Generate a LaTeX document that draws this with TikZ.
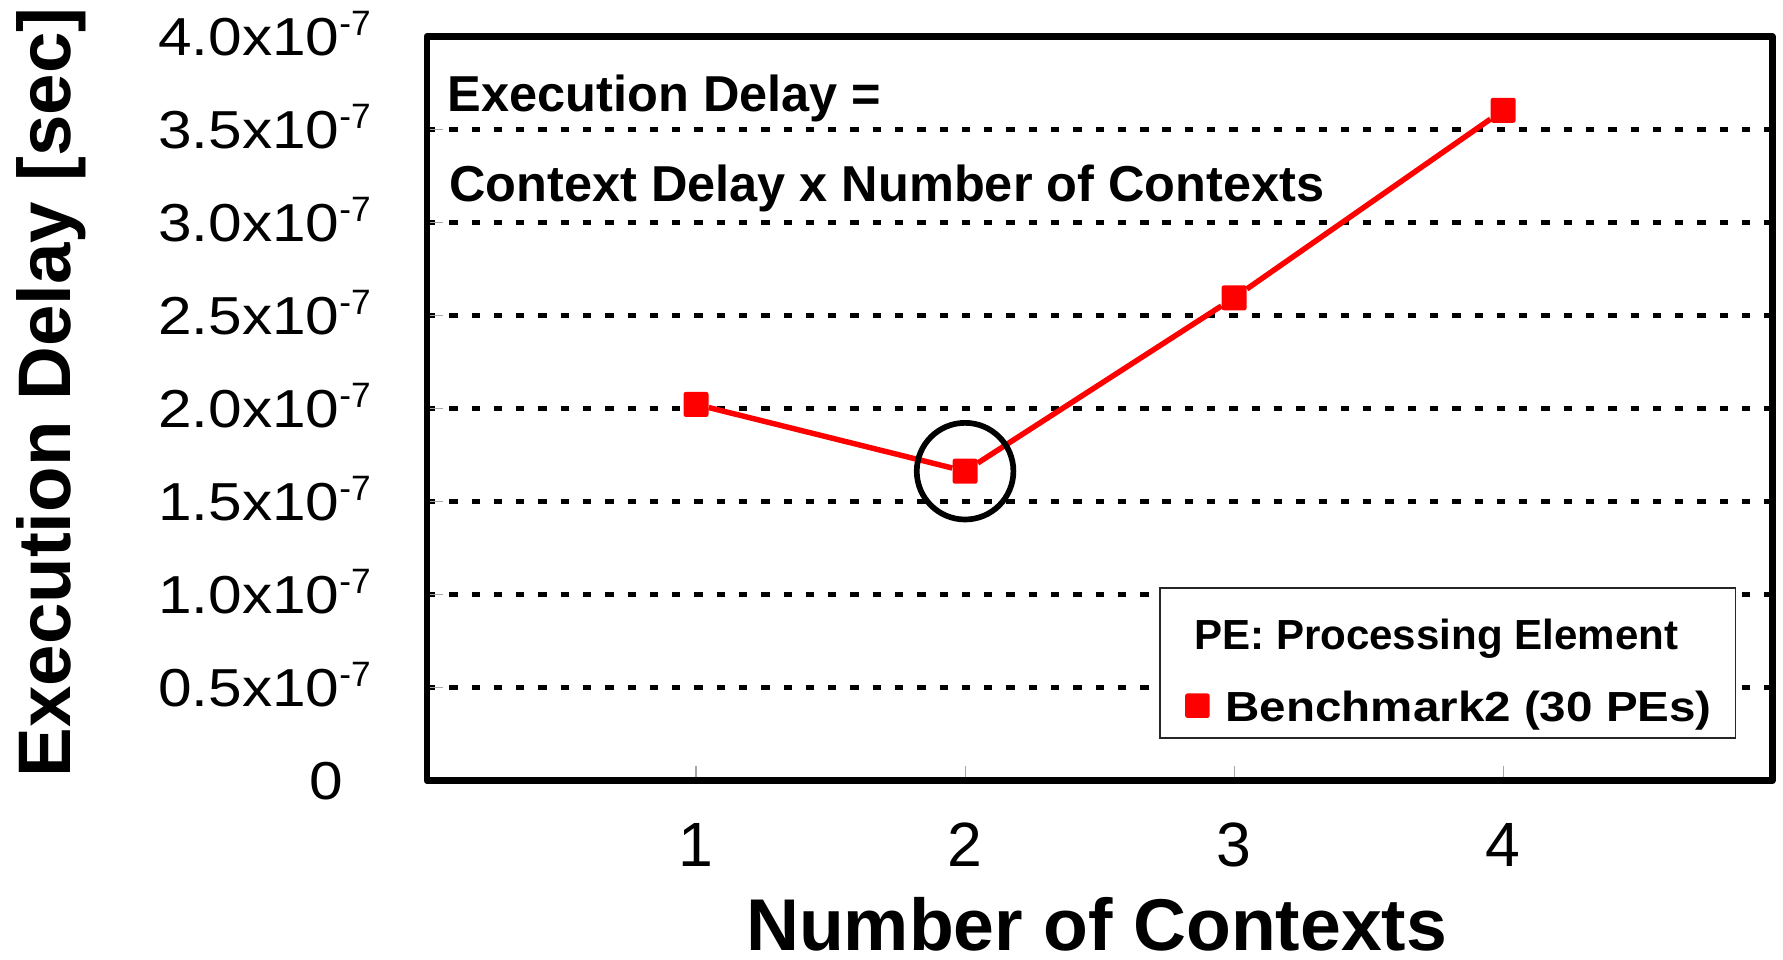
\documentclass[tikz,border=0pt]{standalone}
\usepackage{fontspec}
\setmainfont{Liberation Sans}
\usepackage{graphicx}
\usepackage{tikz}

\newcommand{\fs}[1]{\fontsize{#1}{#1}\selectfont}
\newcommand{\ytick}[1]{\scalebox{1.13}[1]{#1x10}\rlap{\raisebox{17.6pt}{\fs{31}-7}}}

\begin{document}
\begin{tikzpicture}[x=1pt,y=1pt,
  gridln/.style={line width=4pt,dash pattern=on 7.3pt off 12.3pt},
  tickln/.style={gray!70,line width=1pt},
  ylab/.style={anchor=base east,inner sep=0,font=\fs{47}},
  xlab/.style={anchor=base,inner sep=0,font=\fs{55}},
  ptbox/.style={fill=red,rounded corners=2pt,minimum size=22pt,inner sep=0},
  dataln/.style={red,line width=4.8pt},
  note/.style={anchor=base west,inner sep=0,font=\fs{44.4}\bfseries}]
\useasboundingbox (0,0) rectangle (1568,844);
% axis titles
\node[rotate=90,anchor=base,inner sep=0,font=\fs{65.5}\bfseries] (ytitle) at (62.3,499) {Execution Delay [sec]};
\node[anchor=base,inner sep=0,font=\fs{64.5}\bfseries] (xtitle) at (964.4,8.5) {Number of Contexts};
% plot area in data units
\begin{scope}[shift={(375.5,157.4)},x=236.6pt,y=163.6pt]
  \foreach \v in {0.5,1,...,3.5} {
    \draw[gridln] (0,\v) -- (5,\v);
    \draw[tickln] (0,\v) -- ++(14pt,0);
  }
  \foreach \v/\t [count=\i] in {0.5/0.5,1/1.0,1.5/1.5,2/2.0,2.5/2.5,3/3.0,3.5/3.5,4/4.0}
    \node[ylab] (yl\i) at ([xshift=-76.8pt,yshift=-16.8pt]0,\v) {\ytick{\t}};
  \node[ylab] (yl0) at ([xshift=-74pt,yshift=-16.8pt]0,0) {\scalebox{1.13}[1]{0}};
  \foreach \i in {1,...,4} {
    \draw[tickln] (\i,0) -- ++(0,13pt);
    \node[xlab] (xl\i) at ([yshift=-75.6pt]\i,0) {\i};
  }
  % measured points
  \foreach \i/\v in {1/2.023,2/1.664,3/2.596,4/3.604}
    \node[ptbox] (p\i) at (\i,\v) {};
  \draw[dataln] (p1) -- (p2) -- (p3) -- (p4);
  \node[draw,circle,line width=5pt,minimum size=85pt,inner sep=0] (best) at (p2) {};
  \draw[line width=6pt,line join=round] (0,0) rectangle (5,4);
\end{scope}
\node[note] (eq1) at (393.6,745.7) {Execution Delay =};
\node[note] (eq2) at (394.8,666.5) {Context Delay x Number of Contexts};
% legend
\node[draw=black!85,line width=1.3pt,fill=white,minimum width=506pt,minimum height=132pt,inner sep=0] (legend) at (1273,261) {};
\node[anchor=base west,inner sep=0,font=\fs{37}\bfseries] (lhead) at (1050,272.4) {PE: Processing Element};
\node[ptbox,minimum size=21.5pt] (lkey) at (1053,223.4) {};
\node[anchor=base west,inner sep=0,font=\fs{37}\bfseries] (lentry) at (1077.6,209.3) {\scalebox{1.13}[1]{Benchmark2 (30 PEs)}};
\end{tikzpicture}
\end{document}
